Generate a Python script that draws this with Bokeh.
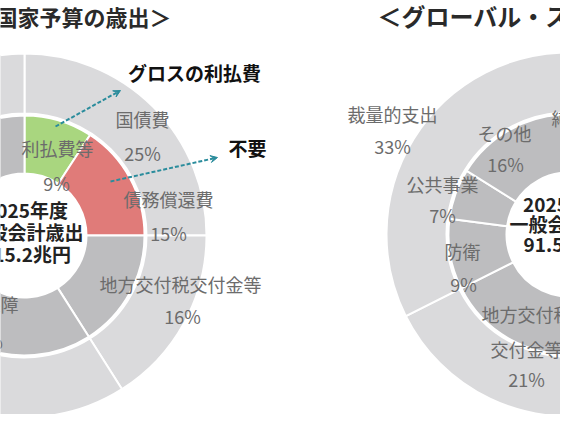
import numpy as np
from bokeh.plotting import figure
from bokeh.models import Range1d, ColumnDataSource, Arrow, VeeHead
from bokeh.core.properties import value
from bokeh.embed import file_html
from bokeh.resources import INLINE

# ---------------- data ----------------
# Left: 国家予算の歳出 (FY2025, 115.2兆円), shares in % (clockwise from 12 o'clock)
left_outer_names = ["国債費", "地方交付税交付金等", "社会保障", "その他"]
left_outer_vals = [25, 16, 33, 26]
left_inner_names = ["利払費等", "債務償還費", "地方交付税交付金等", "社会保障", "その他"]
left_inner_vals = [9.2, 15.8, 16, 33, 26]

# Right: グローバル・スタンダードの歳出 (91.5兆円)
right_outer_names = ["純利払費", "義務的支出", "地方交付税交付金等", "裁量的支出"]
right_outer_vals = [11, 35.6, 21, 32.4]
right_inner_names = ["純利払費", "社会保障", "地方交付税交付金等", "防衛", "公共事業", "その他"]
right_inner_vals = [11, 35.6, 21, 9.5, 6.8, 16.1]

left_center_text = ["2025年度", "一般会計歳出", "115.2兆円"]
right_center_text = ["2025年度", "一般会計歳出", "91.5兆円"]

left_labels = ["国債費", "25%", "利払費等", "9%", "債務償還費", "15%",
               "地方交付税交付金等", "16%", "社会保障", "33%"]
right_labels = ["裁量的支出", "33%", "その他", "16%", "公共事業", "7%", "防衛", "9%",
                "地方交付税", "交付金等", "21%", "純利払費", "国債費"]

# ---------------- layout / style ----------------
FONT = "Noto Sans CJK JP"
C_OUTER = "#dadadc"
C_INNER = "#bdbdbf"
C_GREEN = "#a9d67f"
C_RED = "#e07b79"
C_LABEL = "#6c6c6c"
C_ARROW = "#2a8c9c"

L_CX, L_CY = 24, 235
R_CX, R_CY = 568, 234
R_HOLE, R_IN, R_OUT0, R_OUT = 62, 120, 122, 182

left_label_pos = [(142, 118), (142, 152), (57, 147), (56, 182), (168, 198), (168, 232),
                  (180, 283), (182, 315), (-18, 303), (-16, 340)]
right_label_pos = [(392, 113), (392, 145), (504, 132), (505, 163), (442, 183), (442, 214),
                   (462, 250), (463, 283), (526, 313), (526, 348), (526, 378),
                   (587, 117), (597, 40)]

p = figure(width=560, height=414, x_range=Range1d(0, 560), y_range=Range1d(-414, 0),
           output_backend="svg", toolbar_location=None, min_border=0,
           x_axis_location=None, y_axis_location=None)
p.grid.visible = False
p.outline_line_color = None
p.background_fill_color = "white"
p.border_fill_color = "white"


def ring(cx, cy, r0, r1, vals, colors):
    c = np.concatenate([[0.0], np.cumsum(vals)]) / float(np.sum(vals)) * 360.0
    t1, t2 = c[:-1], c[1:]
    src = ColumnDataSource(dict(
        x=[cx] * len(vals), y=[-cy] * len(vals),
        start=np.deg2rad(90 - t2), end=np.deg2rad(90 - t1), color=colors))
    p.annular_wedge(x="x", y="y", inner_radius=r0, outer_radius=r1,
                    start_angle="start", end_angle="end", fill_color="color",
                    line_color="white", line_width=2, source=src)


ring(L_CX, L_CY, R_OUT0, R_OUT, left_outer_vals, [C_OUTER] * len(left_outer_vals))
ring(L_CX, L_CY, R_HOLE, R_IN, left_inner_vals, [C_GREEN, C_RED] + [C_INNER] * 3)
ring(R_CX, R_CY, R_OUT0, R_OUT, right_outer_vals, [C_OUTER] * len(right_outer_vals))
ring(R_CX, R_CY, R_HOLE, R_IN, right_inner_vals, [C_GREEN] + [C_INNER] * 5)


def texts(items, pos, size, color, bold=False, align="center"):
    src = ColumnDataSource(dict(x=[q[0] for q in pos], y=[-q[1] for q in pos], t=items))
    p.text(x="x", y="y", text="t", source=src, text_align=align, text_baseline="middle",
           text_font=value(FONT), text_font_size=size, text_color=color,
           text_font_style="bold" if bold else "normal")


texts(left_labels, left_label_pos, "18px", C_LABEL)
texts(right_labels, right_label_pos, "18px", C_LABEL)
texts(left_center_text, [(26, 209), (26, 231), (26, 253)], "19px", "#222222", bold=True)
texts(right_center_text, [(564, 203), (566, 223), (562, 243)], "19px", "#222222", bold=True)

# titles
texts(["＜国家予算の歳出＞"], [(171, 15)], "22px", "#2a2a2a", bold=True, align="right")
texts(["＜グローバル・スタンダードの歳出＞"], [(377, 15)], "24px", "#2a2a2a", bold=True, align="left")

# annotations
texts(["グロスの利払費"], [(194, 72)], "19px", "#111111", bold=True)
texts(["不要"], [(247, 147)], "19px", "#111111", bold=True)

for (xs, ys, xe, ye) in [(55, 126, 120, 90), (110, 181, 217, 157)]:
    p.add_layout(Arrow(end=VeeHead(size=7, line_color=C_ARROW, fill_color=C_ARROW, line_width=1),
                       x_start=xs, y_start=-ys, x_end=xe, y_end=-ye,
                       line_color=C_ARROW, line_width=2, line_dash="4 2"))

open("out.html", "w").write(file_html(p, INLINE))
